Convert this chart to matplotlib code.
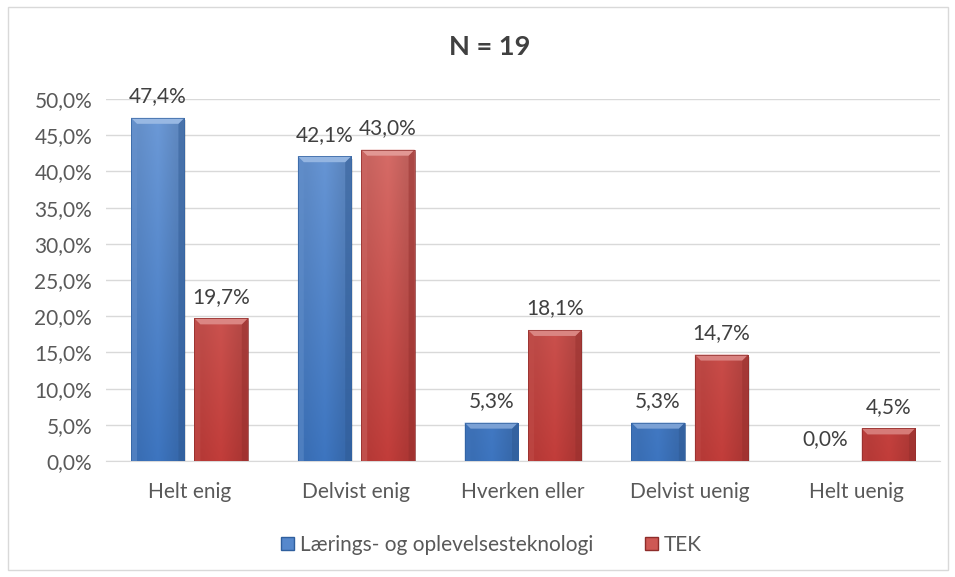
import numpy as np
import matplotlib
matplotlib.use("Agg")
import matplotlib.pyplot as plt
from matplotlib.patches import Rectangle, Polygon
from matplotlib.colors import to_rgb

plt.rcParams['font.family'] = ['Lato', 'DejaVu Sans']

categories = ["Helt enig", "Delvist enig", "Hverken eller", "Delvist uenig", "Helt uenig"]
series_names = ["Lærings- og oplevelsesteknologi", "TEK"]
laerings = [47.4, 42.1, 5.3, 5.3, 0.0]
tek = [19.7, 43.0, 18.1, 14.7, 4.5]
yticks = [0, 5, 10, 15, 20, 25, 30, 35, 40, 45, 50]
title = "N = 19"

# (top colour, bottom colour) per series
grads = [("#6E9BD8", "#3D75C0"), ("#D9736E", "#C23D3A")]
edge_cols = ["#2F5F9E", "#8E2C2A"]
text_col = "#595959"

fig = plt.figure(figsize=(9.55, 5.77), dpi=100)
fig.patches.append(Rectangle((8/955, 7/577), 940/955, 563/577, transform=fig.transFigure,
                             fill=False, edgecolor="#D9D9D9", linewidth=1.0))
ax = fig.add_axes([106/955, 1 - 461/577, 834/955, (461 - 99)/577])

x = np.arange(len(categories))
w = 0.32
gap = 0.06
offsets = [-(w + gap) / 2, (w + gap) / 2]

def mix(a, b, t):
    a = np.array(to_rgb(a)); b = np.array(to_rgb(b))
    return a + (b - a) * t

def light(c, f):
    r = np.array(to_rgb(c))
    return r + (1 - r) * f if f >= 0 else r * (1 + f)

ymax = 50.0
px_y = ymax / 362.0   # data units per pixel (vertical)
px_x = 1.0 / 167.0    # data units per pixel (horizontal)

for vals, off, (ctop, cbot), ec, name in zip([laerings, tek], offsets, grads, edge_cols, series_names):
    bars = ax.bar(x + off, vals, w, color=mix(ctop, cbot, 0.5), edgecolor='none',
                  label=name, zorder=3)
    for b, v in zip(bars, vals):
        bx, by, bw, bh = b.get_x(), b.get_y(), b.get_width(), b.get_height()
        if bh > 0:
            # drop shadow
            ax.add_patch(Rectangle((bx + 1.5 * px_x, by - 2.5 * px_y), bw, bh,
                                   facecolor="#000000", alpha=0.12, lw=0, zorder=2.9))
            ny = 64
            tt = np.linspace(0, 1, ny)[:, None]
            ftop = (by + bh) / ymax
            frac = tt * ftop
            img = np.zeros((ny, 3, 3))
            base = np.array([mix(cbot, ctop, f) for f in frac[:, 0]])
            img[:, 0, :] = base * 0.94
            img[:, 1, :] = base
            img[:, 2, :] = base * 0.9
            im = ax.imshow(img, extent=[bx, bx + bw, by, by + bh], aspect='auto', origin='lower',
                           zorder=3.5, interpolation='bilinear')
            im.set_clip_path(b)
            top_col = mix(cbot, ctop, ftop)
            bev_h = min(6 * px_y, bh * 0.4)
            bev_w = 6 * px_x
            ax.add_patch(Polygon([[bx, by + bh], [bx + bw, by + bh],
                                  [bx + bw - bev_w, by + bh - bev_h], [bx + bev_w, by + bh - bev_h]],
                                 closed=True, facecolor=light(top_col, 0.3), lw=0, zorder=3.6))
            ax.add_patch(Polygon([[bx, by], [bx, by + bh], [bx + bev_w, by + bh - bev_h],
                                  [bx + bev_w, by]], closed=True,
                                 facecolor=light(top_col, -0.05), alpha=0.5, lw=0, zorder=3.55))
            ax.add_patch(Polygon([[bx + bw, by], [bx + bw, by + bh], [bx + bw - bev_w, by + bh - bev_h],
                                  [bx + bw - bev_w, by]], closed=True,
                                 facecolor=light(cbot, -0.25), alpha=0.45, lw=0, zorder=3.55))
            ax.add_patch(Rectangle((bx, by), bw, bh, fill=False, edgecolor=ec, lw=0.7,
                                   alpha=0.7, zorder=3.7))
        ax.text(bx + bw / 2, v + 1.6, f"{v:.1f}%".replace(".", ","), ha='center', va='bottom',
                fontsize=15, color="#404040", zorder=5)

ax.set_ylim(0, ymax)
ax.set_xlim(-0.5, len(categories) - 0.5)
ax.set_yticks(yticks)
ax.set_yticklabels([f"{v:.1f}%".replace(".", ",") for v in yticks])
ax.set_xticks(x)
ax.set_xticklabels(categories)
ax.tick_params(axis='both', length=0, labelsize=15, labelcolor=text_col)
ax.tick_params(axis='y', pad=10)
ax.tick_params(axis='x', pad=15)
ax.grid(axis='y', color="#D9D9D9", linewidth=1.0, zorder=0)
for s in ["top", "right", "left"]:
    ax.spines[s].set_visible(False)
ax.spines["bottom"].set_color("#D9D9D9")
ax.set_axisbelow(True)

fig.text(0.513, 1 - 47/577, title, ha='center', va='center', fontsize=19.5, fontweight='bold',
         color="#404040")

handles = [Rectangle((0, 0), 1, 1, facecolor=mix(c[0], c[1], 0.5), edgecolor=e)
           for c, e in zip(grads, edge_cols)]
leg = fig.legend(handles, series_names, loc='center', bbox_to_anchor=(0.515, 1 - 545/577),
                 ncol=2, frameon=False, fontsize=15, handlelength=0.6, handleheight=0.6,
                 handletextpad=0.3, columnspacing=2.5)
for t in leg.get_texts():
    t.set_color(text_col)

fig.savefig("out.png", dpi=100)
